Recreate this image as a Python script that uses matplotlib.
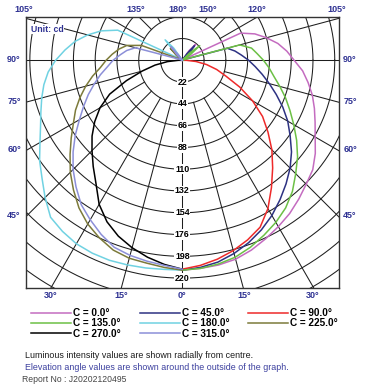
import numpy as np
import matplotlib
matplotlib.use('Agg')
import matplotlib.pyplot as plt

plt.rcParams['font.family'] = ['Liberation Sans', 'DejaVu Sans']

# ---------------- data ----------------
GAMMA = list(range(0, 185, 5))  # elevation angle (deg from nadir)

C_LABELS = ['C = 0.0°', 'C = 45.0°', 'C = 90.0°', 'C = 135.0°',
            'C = 180.0°', 'C = 225.0°', 'C = 270.0°', 'C = 315.0°']
C_COLORS = ['#c46cc0', '#2d3282', '#ee2a2a', '#6cc045',
            '#70d2e2', '#7c7a3a', '#000000', '#8c8fd8']
C_SIDE = [1, 1, 1, 1, -1, -1, -1, -1]  # right half / left half of diagram

I_C0 = [212, 211, 210, 208, 204, 199, 194, 189, 183, 177, 172, 164, 155, 148, 142, 136,
        129, 122, 113, 106, 98, 88, 78, 65, 3, 0, 0, 6, 21, 12, 0, 0, 0, 0, 0, 0, 0]
I_C45 = [212, 210, 207, 202, 196, 189, 181, 172, 163, 154, 144, 133, 123, 112, 101, 91,
         82, 74, 67, 60, 54, 47, 3, 0, 0, 0, 0, 8, 19, 8, 0, 0, 0, 0, 0, 0, 0]
I_C90 = [211, 208, 204, 199, 193, 186, 173, 157, 142, 128, 113, 99, 82, 64, 47, 36,
         25, 14, 4, 0, 0, 0, 0, 0, 0, 0, 0, 0, 0, 0, 0, 0, 0, 0, 0, 0, 0]
I_C135 = [212, 211, 209, 206, 201, 195, 189, 182, 173, 162, 152, 141, 130, 120, 111, 102,
          94, 88, 82, 76, 71, 60, 4, 0, 0, 10, 23, 10, 0, 0, 0, 0, 0, 0, 0, 0, 0]
I_C180 = [212, 212, 213, 214, 215, 215, 214, 211, 207, 196, 185, 176, 166, 158, 152, 147,
          142, 136, 128, 119, 110, 99, 87, 72, 4, 0, 0, 10, 27, 15, 0, 0, 0, 0, 0, 0, 0]
I_C225 = [212, 210, 208, 207, 204, 198, 191, 182, 171, 160, 148, 137, 127, 119, 110, 101,
          92, 83, 77, 71, 65, 58, 44, 2, 0, 0, 8, 17, 6, 0, 0, 0, 0, 0, 0, 0, 0]
I_C270 = [211, 207, 202, 196, 189, 180, 168, 152, 140, 129, 119, 108, 96, 81, 60, 42,
          28, 15, 4, 0, 0, 0, 0, 0, 0, 0, 0, 0, 0, 0, 0, 0, 0, 0, 0, 0, 0]
I_C315 = [211, 208, 206, 204, 201, 194, 186, 178, 167, 156, 144, 132, 120, 110, 101, 92,
          84, 76, 70, 63, 57, 49, 3, 0, 0, 0, 0, 7, 18, 7, 0, 0, 0, 0, 0, 0, 0]
INTENSITIES = [I_C0, I_C45, I_C90, I_C135, I_C180, I_C225, I_C270, I_C315]

RING_LABELS = [22, 44, 66, 88, 110, 132, 154, 176, 198, 220]
RING_STEP = 22

# angle labels around the frame: (text, pixel x, pixel y)
ANGLE_LABELS = [('105°', 24, 10), ('135°', 136, 10), ('180°', 178, 10), ('150°', 208, 10),
                ('120°', 257, 10), ('105°', 337, 10),
                ('90°', 14, 60), ('75°', 14, 101), ('60°', 14, 150), ('45°', 14, 215),
                ('90°', 350, 60), ('75°', 350, 101), ('60°', 350, 150), ('45°', 350, 215),
                ('30°', 51, 296), ('15°', 121, 296), ('0°', 182, 296), ('15°', 244, 296),
                ('30°', 313, 296)]

# ---------------- figure ----------------
W, H = 366, 391
fig = plt.figure(figsize=(W / 100, H / 100), dpi=100)
cx, cy, scale = 182.3, 60.3, 0.99
bx0, by0, bx1, by1 = 26, 17, 339, 288
ax = fig.add_axes([bx0 / W, 1 - by1 / H, (bx1 - bx0) / W, (by1 - by0) / H])
ax.set_xlim((bx0 - cx) / scale, (bx1 - cx) / scale)
ax.set_ylim(-(by1 - cy) / scale, (cy - by0) / scale)
ax.set_xticks([])
ax.set_yticks([])
for s in ax.spines.values():
    s.set_linewidth(1.0)
    s.set_color('#333333')

GRID_C = '#1e1e1e'
t = np.linspace(0, 2 * np.pi, 721)
for r in range(RING_STEP, 320, RING_STEP):
    ax.plot(r * np.cos(t), r * np.sin(t), color=GRID_C, lw=0.75, zorder=1)
for a in range(0, 360, 15):
    th = np.radians(a)
    r0 = 0 if a % 90 == 0 else 2 * RING_STEP
    ax.plot([r0 * np.sin(th), 400 * np.sin(th)], [-r0 * np.cos(th), -400 * np.cos(th)],
            color=GRID_C, lw=0.75, zorder=1)

g = np.radians(GAMMA)
handles = []
for lab, col, side, I in zip(C_LABELS, C_COLORS, C_SIDE, INTENSITIES):
    I = np.asarray(I, dtype=float)
    ln, = ax.plot(side * I * np.sin(g), -I * np.cos(g), color=col, lw=1.1, label=lab, zorder=3)
    handles.append(ln)

for r in RING_LABELS:
    ax.text(0, -r, str(r), ha='center', va='center', fontsize=6.4, fontweight='bold',
            color='black', zorder=5,
            bbox=dict(fc='white', ec='none', pad=0.5))

ax.text((31 - cx) / scale, (cy - 29) / scale, 'Unit: cd', ha='left', va='center',
        fontsize=6.3, fontweight='bold', color='#2e3192', zorder=5,
        bbox=dict(fc='white', ec='none', pad=0.3))

for txt, px, py in ANGLE_LABELS:
    fig.text(px / W, 1 - py / H, txt, ha='center', va='center', fontsize=6.5,
             fontweight='bold', color='#2e3192')

order = [0, 3, 6, 1, 4, 7, 2, 5]
fig.legend([handles[i] for i in order], [C_LABELS[i] for i in order], ncol=3,
           loc='upper left', bbox_to_anchor=(31 / W, 1 - 308 / H), frameon=False,
           prop=dict(size=7.2, weight='bold'), handlelength=4.0, handletextpad=0.2,
           columnspacing=1.9, labelspacing=0.03, borderpad=0, borderaxespad=0)

fig.text(25 / W, 1 - 356 / H, 'Luminous intensity values are shown radially from centre.',
         ha='left', va='center', fontsize=6.4, color='#1a1a1a')
fig.text(25 / W, 1 - 368 / H, 'Elevation angle values are shown around the outside of the graph.',
         ha='left', va='center', fontsize=6.4, color='#3b3f9e')
fig.text(22 / W, 1 - 380 / H, 'Report No : J20202120495', ha='left', va='center',
         fontsize=6.2, color='#444444')

fig.savefig('out.png', dpi=100)
